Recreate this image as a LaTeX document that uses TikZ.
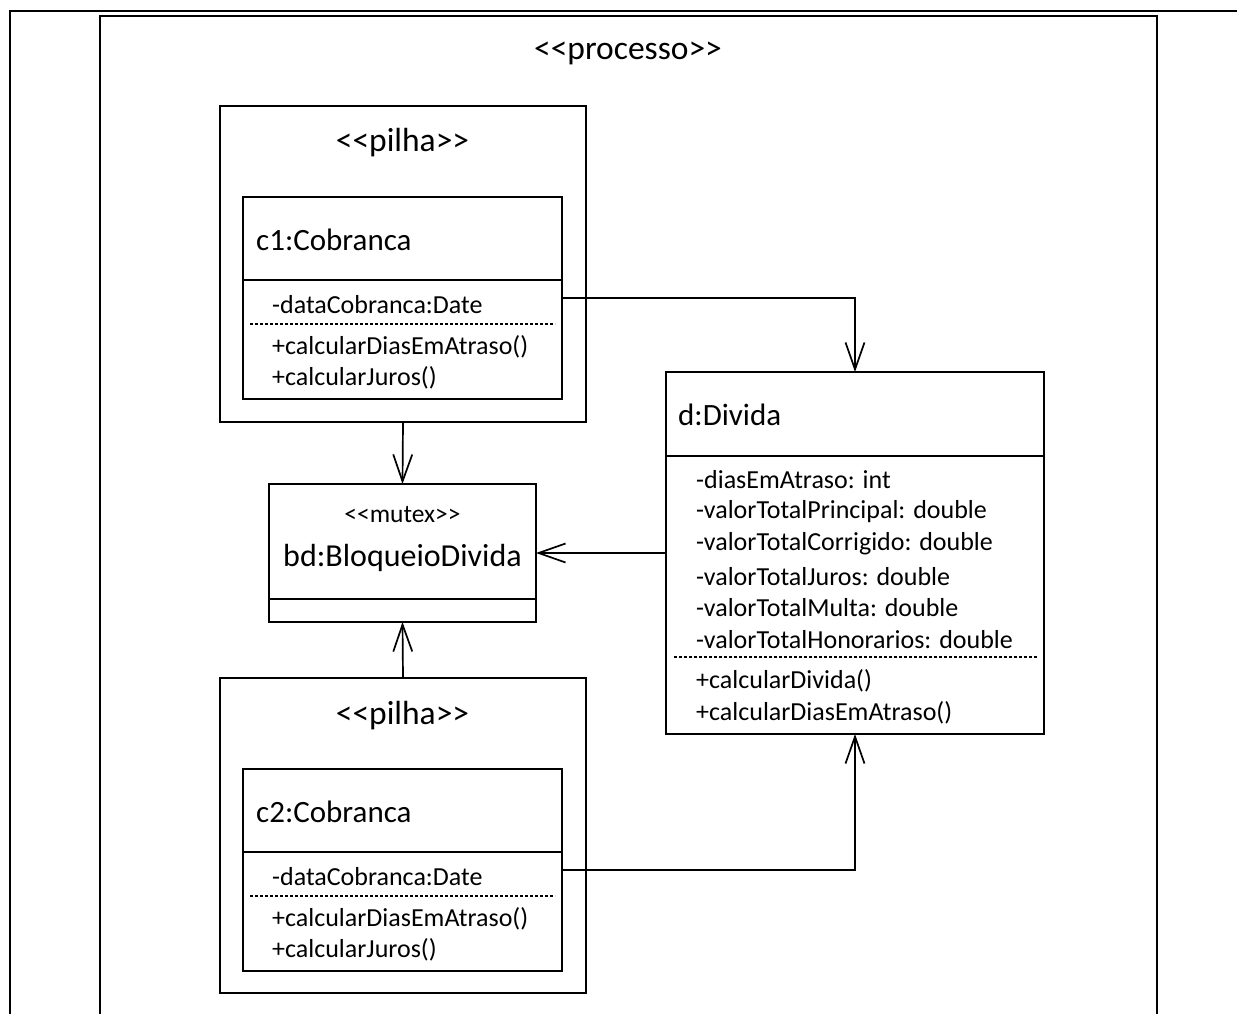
\documentclass[tikz,border=0pt]{standalone}
\usepackage{fontspec}
\setmainfont{Carlito}
\usetikzlibrary{arrows.meta}
% double angle brackets, kept apart so the font mapping does not merge them
\newcommand\stl{<\kern0pt<}
\newcommand\str{>\kern0pt>}
\begin{document}
\begin{tikzpicture}[x=1pt,y=-1pt,
  box/.style={draw, line width=1.7pt, anchor=north west, inner sep=0pt, outer sep=0pt},
  frame/.style={box, line width=2.2pt},
  hdr/.style={inner sep=0pt, font=\fontsize{31}{37}\selectfont},
  stp/.style={inner sep=0pt, font=\fontsize{33.5}{40}\selectfont},
  mem/.style={inner sep=0pt, anchor=west, font=\fontsize{26}{31}\selectfont},
  sep/.style={line width=1.7pt},
  dsep/.style={line width=1.3pt, dash pattern=on 3pt off 2pt},
  arr/.style={line width=1.7pt, -{Straight Barb[length=27pt,width=19pt,line width=1.7pt]}}
]
\useasboundingbox (0,0) rectangle (1237,1014);
\clip (0,0) rectangle (1237,1014);

% enclosing frames
\node[frame, minimum width=1400pt, minimum height=1200pt] (outer) at (10,11) {};
\node[frame, minimum width=1057pt, minimum height=1200pt] (proc) at (100,16) {};
\node[stp] (proclbl) at (628,53) {\stl processo\str};

% first stack
\node[box, minimum width=366pt, minimum height=316pt] (p1) at (220,106) {};
\node[stp] (p1lbl) at (402.5,143) {\stl pilha\str};
\node[box, minimum width=319pt, minimum height=202pt] (c1) at (243,197) {};
\draw[sep] (c1.west |- 0,280) -- (c1.east |- 0,280);
\node[hdr, anchor=west] (c1name) at (256,240) {c1:Cobranca};
\node[mem] (c1a) at (272,305) {-dataCobranca:Date};
\draw[dsep] (250,324) -- (555,324);
\node[mem] (c1m1) at (272,347) {+calcularDiasEmAtraso()};
\node[mem] (c1m2) at (272,378) {+calcularJuros()};

% second stack
\node[box, minimum width=366pt, minimum height=315pt] (p2) at (220,678) {};
\node[stp] (p2lbl) at (402.5,716) {\stl pilha\str};
\node[box, minimum width=319pt, minimum height=202pt] (c2) at (243,769) {};
\draw[sep] (c2.west |- 0,852) -- (c2.east |- 0,852);
\node[hdr, anchor=west] (c2name) at (256,812) {c2:Cobranca};
\node[mem] (c2a) at (272,877) {-dataCobranca:Date};
\draw[dsep] (250,896) -- (555,896);
\node[mem] (c2m1) at (272,919) {+calcularDiasEmAtraso()};
\node[mem] (c2m2) at (272,950) {+calcularJuros()};

% mutex
\node[box, minimum width=267pt, minimum height=138pt] (bd) at (269,484) {};
\draw[sep] (bd.west |- 0,599) -- (bd.east |- 0,599);
\node[inner sep=0pt, font=\fontsize{25.5}{30}\selectfont] (bdst) at (402.5,515) {\stl mutex\str};
\node[inner sep=0pt, font=\fontsize{32}{38}\selectfont] (bdname) at (402.5,558) {bd:BloqueioDivida};

% debt object
\node[box, minimum width=378pt, minimum height=362pt] (d) at (666,372) {};
\draw[sep] (d.west |- 0,456) -- (d.east |- 0,456);
\node[hdr, anchor=west] (dname) at (678,415) {d:Divida};
\node[mem] (da1) at (696,480) {-diasEmAtraso: int};
\node[mem] (da2) at (696,512) {-valorTotalPrincipal: double};
\node[mem] (da3) at (696,544) {-valorTotalCorrigido: double};
\node[mem] (da4) at (696,577) {-valorTotalJuros: double};
\node[mem] (da5) at (696,608) {-valorTotalMulta: double};
\node[mem] (da6) at (696,640) {-valorTotalHonorarios: double};
\draw[dsep] (674,657) -- (1037,657);
\node[mem] (dm1) at (696,681) {+calcularDivida()};
\node[mem] (dm2) at (696,713) {+calcularDiasEmAtraso()};

% connectors
\draw[arr] (c1.east) -| (d.north);
\draw[arr] (c2.east) -| (d.south);
\draw[arr] (p1.south) -- (bd.north);
\draw[arr] (p2.north) -- (bd.south);
\draw[arr] (d.west) -- (bd.east);
\end{tikzpicture}
\end{document}
